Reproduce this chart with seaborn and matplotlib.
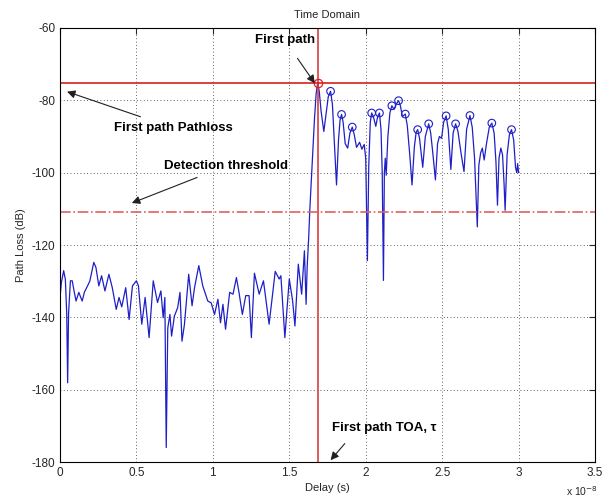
import matplotlib
matplotlib.use("Agg")
import matplotlib.pyplot as plt
import seaborn as sns
import pandas as pd

# delay in units of 1e-8 s, path loss in dB
delay = [
    0.000, 0.009, 0.024, 0.035, 0.044, 0.050, 0.056, 0.068, 0.080, 0.092,
    0.105, 0.123, 0.145, 0.160, 0.178, 0.195, 0.221, 0.235, 0.254, 0.272,
    0.294, 0.320, 0.342, 0.368, 0.386, 0.404, 0.430, 0.452, 0.474, 0.500,
    0.513, 0.535, 0.557, 0.583, 0.610, 0.638, 0.660, 0.675, 0.686, 0.695,
    0.705, 0.719, 0.730, 0.748, 0.770, 0.785, 0.798, 0.814, 0.842, 0.864,
    0.880, 0.908, 0.934, 0.967, 0.989, 1.011, 1.033, 1.050, 1.066, 1.083,
    1.110, 1.132, 1.154, 1.171, 1.193, 1.215, 1.237, 1.252, 1.272, 1.303,
    1.331, 1.368, 1.408, 1.434, 1.445, 1.471, 1.500, 1.522, 1.537, 1.559,
    1.581, 1.599, 1.610, 1.617, 1.627, 1.634, 1.643, 1.654, 1.665, 1.676,
    1.686, 1.696, 1.708, 1.726, 1.740, 1.755, 1.770, 1.782, 1.795, 1.809,
    1.822, 1.832, 1.842, 1.852, 1.866, 1.882, 1.897, 1.912, 1.925, 1.940,
    1.960, 1.975, 1.990, 2.000, 2.011, 2.020, 2.030, 2.039, 2.050, 2.066,
    2.078, 2.090, 2.100, 2.108, 2.116, 2.122, 2.128, 2.134, 2.145, 2.158,
    2.171, 2.185, 2.200, 2.215, 2.227, 2.240, 2.259, 2.272, 2.288, 2.303,
    2.318, 2.330, 2.340, 2.352, 2.373, 2.390, 2.412, 2.425, 2.440, 2.456,
    2.470, 2.482, 2.496, 2.510, 2.526, 2.540, 2.557, 2.572, 2.588, 2.603,
    2.625, 2.643, 2.660, 2.682, 2.697, 2.712, 2.730, 2.740, 2.752, 2.763,
    2.775, 2.790, 2.808, 2.825, 2.840, 2.852, 2.862, 2.872, 2.884, 2.895,
    2.905, 2.912, 2.925, 2.940, 2.954, 2.968, 2.980, 2.988, 2.994, 3.000,
]
path_loss = [
    -134.5, -130.4, -127.1, -129.5, -139.0, -158.1, -139.0, -129.9, -129.9, -132.7,
    -135.5, -133.1, -135.5, -133.0, -131.5, -130.0, -124.8, -126.2, -131.3, -128.5,
    -132.7, -128.1, -131.8, -137.8, -134.5, -137.1, -131.8, -140.6, -131.3, -129.9,
    -131.3, -141.9, -134.5, -145.6, -129.9, -135.9, -132.7, -140.1, -134.5, -176.0,
    -143.0, -139.2, -145.2, -139.7, -137.3, -133.1, -146.6, -142.0, -128.1, -136.8,
    -131.8, -125.7, -131.3, -135.5, -136.0, -139.2, -135.0, -141.5, -136.4, -143.3,
    -133.1, -133.6, -129.0, -133.1, -139.2, -134.0, -134.0, -145.6, -127.8, -133.6,
    -129.9, -141.9, -127.3, -129.4, -128.5, -145.6, -129.4, -135.5, -142.4, -125.3,
    -133.6, -121.6, -136.4, -126.0, -117.9, -110.5, -103.0, -93.8, -85.0, -78.0,
    -75.2, -77.5, -83.0, -88.6, -84.0, -79.0, -77.5, -81.0, -92.0, -103.4,
    -91.0, -85.5, -83.9, -86.0, -92.0, -93.2, -89.0, -87.4, -89.5, -93.0,
    -91.6, -93.5, -92.2, -96.0, -124.3, -98.0, -86.0, -83.5, -84.5, -87.2,
    -84.5, -83.5, -88.0, -100.0, -129.8, -100.0, -96.0, -100.7, -90.0, -83.5,
    -81.5, -82.5, -81.0, -80.1, -81.5, -84.5, -83.8, -87.0, -95.0, -103.4,
    -93.0, -88.8, -88.1, -90.5, -98.5, -90.0, -86.5, -89.0, -95.0, -102.0,
    -92.0, -90.0, -90.5, -86.0, -84.3, -88.0, -99.1, -89.0, -86.5, -88.5,
    -95.0, -99.7, -88.0, -84.2, -87.5, -96.0, -115.0, -98.0, -94.5, -93.2,
    -96.5, -92.0, -87.5, -86.3, -89.0, -97.0, -109.0, -96.0, -93.2, -95.0,
    -103.0, -110.4, -95.0, -89.5, -88.1, -91.0, -98.5, -100.0, -97.5, -100.0,
]

# detected peaks (blue circles)
peak_delay = [1.770, 1.842, 1.912, 2.039, 2.090, 2.171, 2.215, 2.259,
              2.340, 2.412, 2.526, 2.588, 2.682, 2.825, 2.954]
peak_loss = [-77.5, -83.9, -87.4, -83.5, -83.5, -81.5, -80.1, -83.8,
             -88.1, -86.5, -84.3, -86.5, -84.2, -86.3, -88.1]

first_path_delay = 1.686
first_path_loss = -75.2
threshold = -110.8

x_ticks = [0, 0.5, 1, 1.5, 2, 2.5, 3, 3.5]
y_ticks = [-180, -160, -140, -120, -100, -80, -60]

sns.set_style("white")
plt.rcParams['font.family'] = ['Liberation Sans', 'DejaVu Sans']
plt.rcParams['axes.unicode_minus'] = False

signal = pd.DataFrame({'delay': delay, 'loss': path_loss})
peaks = pd.DataFrame({'delay': peak_delay, 'loss': peak_loss})

fig = plt.figure(figsize=(6.16, 4.98), dpi=100)
ax = fig.add_axes([60 / 616, 36 / 498, 535 / 616, 434 / 498])

sns.lineplot(data=signal, x='delay', y='loss', color='#1f1fc8', linewidth=0.9, ax=ax)
sns.scatterplot(data=peaks, x='delay', y='loss', marker='o', s=30,
                facecolor='none', edgecolor='#1f1fc8', linewidth=0.8, ax=ax)

# first path markers
ax.axvline(first_path_delay, color='#d84040', linewidth=1.2)
ax.axhline(first_path_loss, color='#d42020', linewidth=1.2)
ax.axhline(threshold, color='#e06060', linewidth=1.2, linestyle='-.')
ax.plot([first_path_delay], [first_path_loss], 'o', mfc='none', mec='#e02020', ms=6, mew=0.9)

ax.set_xlim(0, 3.5)
ax.set_ylim(-180, -60)
ax.set_xticks(x_ticks)
ax.set_xticklabels(['0', '0.5', '1', '1.5', '2', '2.5', '3', '3.5'])
ax.set_yticks(y_ticks)
ax.grid(True, color='#303030', linestyle=(0, (1, 3)), linewidth=0.6)
ax.tick_params(direction='in', length=4, top=True, right=True, labelsize=8.5)
for s in ax.spines.values():
    s.set_color('black')
    s.set_linewidth(0.8)

ax.set_title('Time Domain', fontsize=8, pad=7)
ax.set_xlabel('Delay (s)', fontsize=8, labelpad=3)
ax.set_ylabel('Path Loss (dB)', fontsize=8, labelpad=4)
ax.text(0.975, -0.068, r'x 10$^{-8}$', transform=ax.transAxes, fontsize=7.5, ha='center', va='center')

arrow = dict(arrowstyle='-|>', color='#202020', lw=0.8, mutation_scale=12)
bold = dict(fontsize=9.5, fontweight='bold', color='black')
ax.annotate('First path', xy=(1.667, -75.3), xytext=(1.47, -63.3),
            ha='center', va='center', arrowprops=dict(arrow, shrinkA=8, shrinkB=0), **bold)
ax.annotate('First path Pathloss', xy=(0.046, -77.6), xytext=(0.35, -87.6),
            ha='left', va='center', arrowprops=dict(arrow, shrinkA=4, shrinkB=0), **bold)
ax.annotate('Detection threshold', xy=(0.47, -108.4), xytext=(0.68, -98.2),
            ha='left', va='center', arrowprops=dict(arrow, shrinkA=4, shrinkB=0), **bold)
ax.annotate('First path TOA, \u03c4', xy=(1.77, -179.5), xytext=(1.78, -170.6),
            ha='left', va='center', arrowprops=dict(arrow, shrinkA=6, shrinkB=0,
                                                     relpos=(0.2, 0)), **bold)

fig.savefig('out.png', dpi=100)
